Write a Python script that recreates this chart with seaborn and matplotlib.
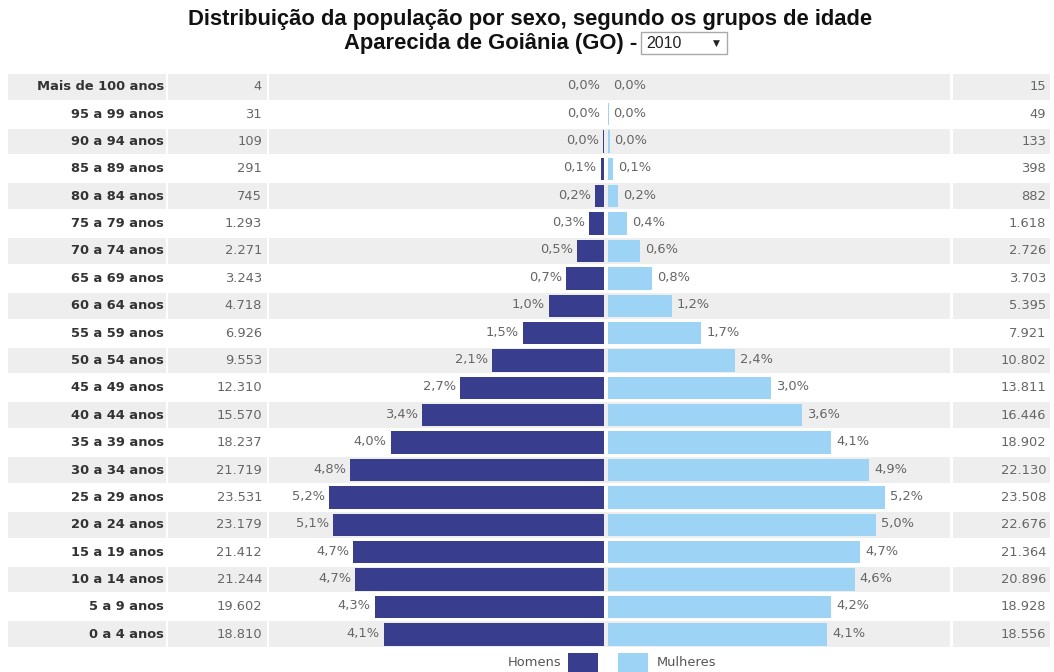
import numpy as np
import pandas as pd
import matplotlib
matplotlib.use("Agg")
import matplotlib.pyplot as plt
import seaborn as sns
from matplotlib.patches import Rectangle

# Dados (Censo 2010 - Aparecida de Goiânia)
grupos = ["Mais de 100 anos", "95 a 99 anos", "90 a 94 anos", "85 a 89 anos",
          "80 a 84 anos", "75 a 79 anos", "70 a 74 anos", "65 a 69 anos",
          "60 a 64 anos", "55 a 59 anos", "50 a 54 anos", "45 a 49 anos",
          "40 a 44 anos", "35 a 39 anos", "30 a 34 anos", "25 a 29 anos",
          "20 a 24 anos", "15 a 19 anos", "10 a 14 anos", "5 a 9 anos",
          "0 a 4 anos"]
homens = [4, 31, 109, 291, 745, 1293, 2271, 3243, 4718, 6926, 9553, 12310,
          15570, 18237, 21719, 23531, 23179, 21412, 21244, 19602, 18810]
mulheres = [15, 49, 133, 398, 882, 1618, 2726, 3703, 5395, 7921, 10802, 13811,
            16446, 18902, 22130, 23508, 22676, 21364, 20896, 18928, 18556]
pct_homens = ["0,0%", "0,0%", "0,0%", "0,1%", "0,2%", "0,3%", "0,5%", "0,7%",
              "1,0%", "1,5%", "2,1%", "2,7%", "3,4%", "4,0%", "4,8%", "5,2%",
              "5,1%", "4,7%", "4,7%", "4,3%", "4,1%"]
pct_mulheres = ["0,0%", "0,0%", "0,0%", "0,1%", "0,2%", "0,4%", "0,6%", "0,8%",
                "1,2%", "1,7%", "2,4%", "3,0%", "3,6%", "4,1%", "4,9%", "5,2%",
                "5,0%", "4,7%", "4,6%", "4,2%", "4,1%"]
num_homens = ["4", "31", "109", "291", "745", "1.293", "2.271", "3.243", "4.718",
              "6.926", "9.553", "12.310", "15.570", "18.237", "21.719", "23.531",
              "23.179", "21.412", "21.244", "19.602", "18.810"]
num_mulheres = ["15", "49", "133", "398", "882", "1.618", "2.726", "3.703", "5.395",
                "7.921", "10.802", "13.811", "16.446", "18.902", "22.130", "23.508",
                "22.676", "21.364", "20.896", "18.928", "18.556"]

COR_H = "#383d8e"
COR_M = "#9dd4f6"
CINZA = "#eeeeee"

df = pd.DataFrame({"grupo": grupos, "homens": homens, "mulheres": mulheres})
n = len(grupos)

sns.set_style("white")
plt.rcParams["font.family"] = ["DejaVu Sans"]

W, H = 1054, 672
fig = plt.figure(figsize=(W / 100, H / 100), dpi=100)


def px_axes(x0, x1, y0=73, y1=648):
    ax = fig.add_axes([x0 / W, 1 - y1 / H, (x1 - x0) / W, (y1 - y0) / H])
    ax.set_facecolor("none")
    return ax


# fundo com linhas alternadas
ax_bg = px_axes(0, W)
ax_bg.set_xlim(0, W)
ax_bg.set_ylim(n - 0.5, -0.5)
ax_bg.axis("off")
for i in range(0, n, 2):
    for x0, x1 in [(8, 166), (168, 267), (269, 950), (953, 1050)]:
        ax_bg.add_patch(Rectangle((x0, i - 0.47), x1 - x0, 0.94, color=CINZA, lw=0))

for i in range(n):
    ax_bg.text(164, i, grupos[i], ha="right", va="center", fontsize=9.4,
               fontweight="bold", color="#333333")
    ax_bg.text(262, i, num_homens[i], ha="right", va="center", fontsize=9.4,
               color="#666666")
    ax_bg.text(1046, i, num_mulheres[i], ha="right", va="center", fontsize=9.4,
               color="#666666")

# barras - homens (eixo invertido)
ax_m = px_axes(268, 604)
sns.barplot(data=df, x="homens", y="grupo", orient="h", color=COR_H,
            saturation=1, width=0.82, linewidth=0, ax=ax_m)
ax_m.set_xlim(336 / 0.0117, 0)
ax_m.set_ylim(n - 0.5, -0.5)
ax_m.axis("off")
for i in range(n):
    ax_m.annotate(pct_homens[i], (homens[i], i), xytext=(-4, 1),
                  textcoords="offset pixels", ha="right", va="center",
                  fontsize=9.4, color="#666666")

# barras - mulheres
ax_f = px_axes(608, 950)
sns.barplot(data=df, x="mulheres", y="grupo", orient="h", color=COR_M,
            saturation=1, width=0.82, linewidth=0, ax=ax_f)
ax_f.set_xlim(0, 342 / 0.0118)
ax_f.set_ylim(n - 0.5, -0.5)
ax_f.axis("off")
for i in range(n):
    ax_f.annotate(pct_mulheres[i], (mulheres[i], i), xytext=(5, 1),
                  textcoords="offset pixels", ha="left", va="center",
                  fontsize=9.4, color="#666666")

# título, seletor de ano e legenda
ax_top = fig.add_axes([0, 0, 1, 1])
ax_top.set_xlim(0, W)
ax_top.set_ylim(H, 0)
ax_top.axis("off")
ax_top.set_facecolor("none")

ax_top.text(530, 19, "Distribuição da população por sexo, segundo os grupos de idade",
            ha="center", va="center", fontsize=15.8, fontweight="bold",
            family="Liberation Sans", color="#111111")
ax_top.text(637, 43, "Aparecida de Goiânia (GO) -", ha="right", va="center",
            fontsize=15.8, fontweight="bold", family="Liberation Sans", color="#111111")
ax_top.add_patch(Rectangle((641, 32), 86, 22, facecolor="white",
                           edgecolor="#a9a9a9", lw=1))
ax_top.text(646, 44, "2010", ha="left", va="center", fontsize=11.5,
            family="Liberation Sans", color="#222222")
ax_top.text(716, 43, "▼", ha="center", va="center", fontsize=6.5, color="#222222")

ax_top.text(561, 662, "Homens", ha="right", va="center", fontsize=9.4, color="#555555")
ax_top.add_patch(Rectangle((568, 653), 30, 22, color=COR_H, lw=0))
ax_top.add_patch(Rectangle((618, 653), 30, 22, color=COR_M, lw=0))
ax_top.text(657, 662, "Mulheres", ha="left", va="center", fontsize=9.4, color="#555555")

fig.savefig("out.png", dpi=100)
